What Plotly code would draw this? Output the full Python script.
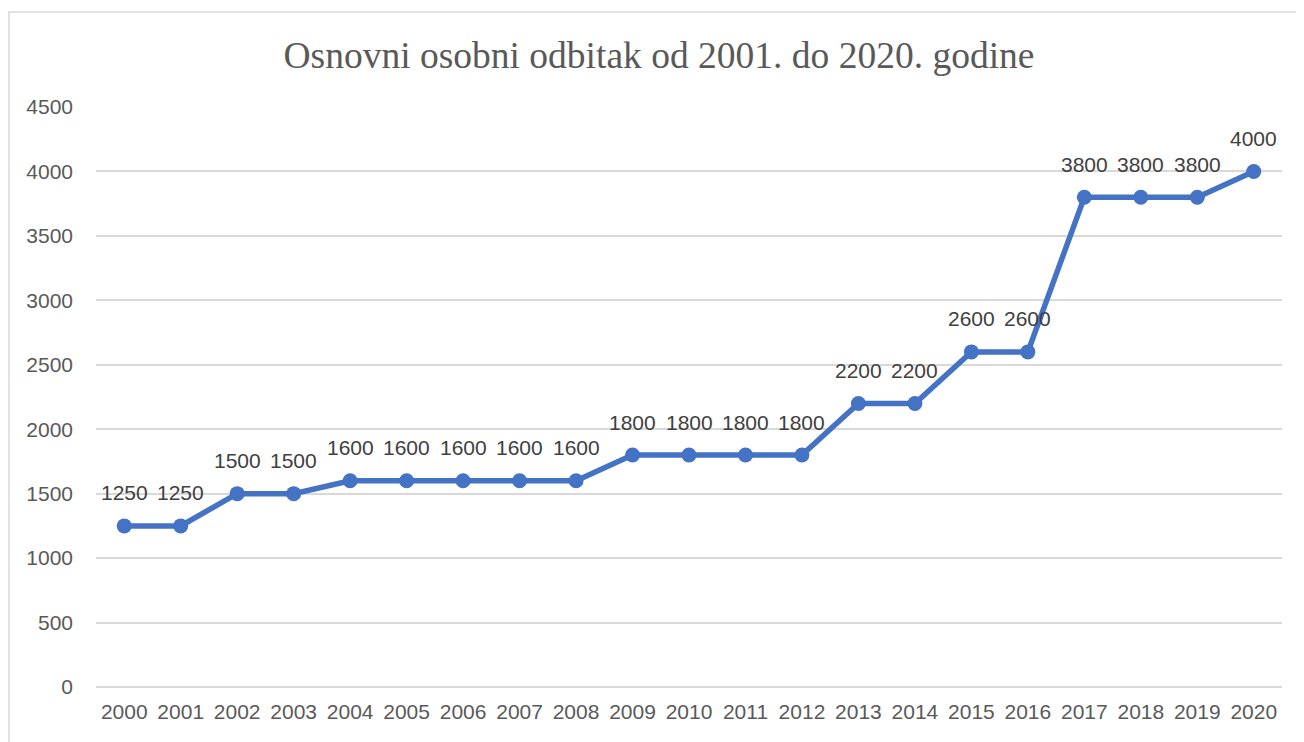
import plotly.graph_objects as go

years = [str(y) for y in range(2000, 2021)]
values = [1250, 1250, 1500, 1500, 1600, 1600, 1600, 1600, 1600, 1800, 1800,
          1800, 1800, 2200, 2200, 2600, 2600, 3800, 3800, 3800, 4000]
y_ticks = [0, 500, 1000, 1500, 2000, 2500, 3000, 3500, 4000, 4500]
title_text = "Osnovni osobni odbitak od 2001. do 2020. godine"

OFF = 8  # default body margin of the page
W, H = 1304 - OFF, 742 - OFF
# page coordinates of plot area
PX0, PX1, PY0, PY1 = 96, 1282, 107, 687
L, R, T, B = PX0 - OFF, 1304 - PX1, PY0 - OFF, 742 - PY1
pw, ph = W - L - R, H - T - B


def px2x(px):
    return (px - PX0) / pw


def py2y(py):
    return (PY1 - py) / ph


fig = go.Figure()
fig.add_trace(go.Scatter(
    x=years, y=values, mode="lines+markers",
    line=dict(color="#4472C4", width=5.5),
    marker=dict(color="#4472C4", size=15),
    cliponaxis=False, hoverinfo="skip"
))

for i, v in enumerate(values):
    fig.add_annotation(x=i, y=v, xref="x", yref="y", text=str(v), showarrow=False,
                       yshift=33, yanchor="middle", xanchor="center",
                       font=dict(family="Liberation Sans, Arial", size=21, color="#404040"))

fig.update_layout(
    width=W, height=H,
    margin=dict(l=L, r=R, t=T, b=B),
    paper_bgcolor="white", plot_bgcolor="white",
    showlegend=False,
    title=dict(text=title_text, x=px2x(659), xref="paper", xanchor="center",
               y=1 - (55 - OFF) / H, yanchor="middle",
               font=dict(family="Liberation Serif, Times New Roman", size=37.5, color="#595959")),
    xaxis=dict(type="category", range=[-0.5, 20.5], showgrid=False,
               showline=False, ticks="", ticklabelstandoff=10,
               tickfont=dict(family="Liberation Sans, Arial", size=21, color="#595959")),
    yaxis=dict(range=[0, 4500], tickvals=y_ticks, showgrid=True,
               gridcolor="#D9D9D9", gridwidth=1.5, zeroline=True,
               zerolinecolor="#D9D9D9", zerolinewidth=1.5, showline=False,
               ticks="", ticklabelstandoff=22,
               tickfont=dict(family="Liberation Sans, Arial", size=21, color="#595959")),
)

fig.add_shape(type="rect", xref="paper", yref="paper",
              x0=px2x(9), x1=px2x(1300),
              y0=py2y(760), y1=py2y(12),
              line=dict(color="#D9D9D9", width=1.5), fillcolor="rgba(0,0,0,0)",
              layer="below")

fig.write_html("out.html")
